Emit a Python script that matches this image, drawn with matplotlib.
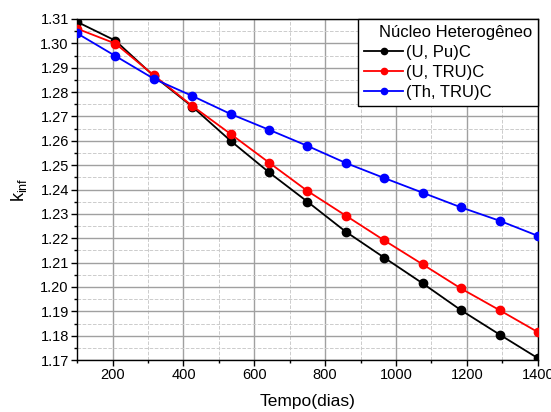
import matplotlib.pyplot as plt
from matplotlib.ticker import MultipleLocator, FormatStrFormatter

plt.rcParams['font.family'] = ['Liberation Sans', 'DejaVu Sans']

dias = [100, 208, 317, 425, 533, 642, 750, 858, 967, 1075, 1183, 1292, 1400]
u_pu = [1.3088, 1.3011, 1.2865, 1.2740, 1.2600, 1.2470, 1.2350, 1.2227, 1.2120,
        1.2015, 1.1905, 1.1805, 1.1708]
u_tru = [1.3060, 1.2999, 1.2868, 1.2743, 1.2628, 1.2510, 1.2394, 1.2293, 1.2191,
         1.2093, 1.1994, 1.1905, 1.1815]
th_tru = [1.3041, 1.2948, 1.2854, 1.2784, 1.2710, 1.2645, 1.2579, 1.2509, 1.2447,
          1.2387, 1.2327, 1.2272, 1.2210]

fig = plt.figure(figsize=(5.51, 4.12), dpi=100)
ax = fig.add_axes([0.140, 0.126, 0.836, 0.828])

ax.plot(dias, u_pu, '-o', color='black', lw=1.3, ms=6, label='(U, Pu)C', zorder=3)
ax.plot(dias, u_tru, '-o', color='red', lw=1.3, ms=6, label='(U, TRU)C', zorder=3)
ax.plot(dias, th_tru, '-o', color='blue', lw=1.3, ms=6, label='(Th, TRU)C', zorder=3)

ax.set_xlim(100, 1400)
ax.set_ylim(1.17, 1.31)
ax.xaxis.set_major_locator(MultipleLocator(200))
ax.xaxis.set_minor_locator(MultipleLocator(100))
ax.yaxis.set_major_locator(MultipleLocator(0.01))
ax.yaxis.set_minor_locator(MultipleLocator(0.005))
ax.yaxis.set_major_formatter(FormatStrFormatter('%.2f'))

ax.grid(which='major', color='#a0a0a0', lw=1.0, ls='-')
ax.grid(which='minor', color='#cccccc', lw=0.7, ls='--')
ax.set_axisbelow(True)

ax.tick_params(which='major', direction='out', length=4, width=1, labelsize=10.5, pad=2)
ax.tick_params(which='minor', direction='out', length=2.5, width=1)
for s in ax.spines.values():
    s.set_linewidth(1.0)

ax.set_xlabel('Tempo(dias)', fontsize=12.5, labelpad=8)
ax.set_ylabel(r'$\mathregular{k_{inf}}$', fontsize=13, labelpad=8)

# legend box spans roughly the right 39% of the axes, Origin style
leg = ax.legend(title='Núcleo Heterogêneo', loc='upper right', fontsize=12,
                title_fontsize=12, fancybox=False, framealpha=1, edgecolor='black',
                bbox_to_anchor=(0.61, 0.0, 0.39, 1.0), mode='expand',
                borderaxespad=0, handlelength=2.35, handletextpad=0.2,
                labelspacing=0.3, borderpad=0.35, markerscale=0.75)
leg.get_frame().set_linewidth(1.0)
leg._legend_box.align = 'right'

fig.savefig('out.png', dpi=100)
